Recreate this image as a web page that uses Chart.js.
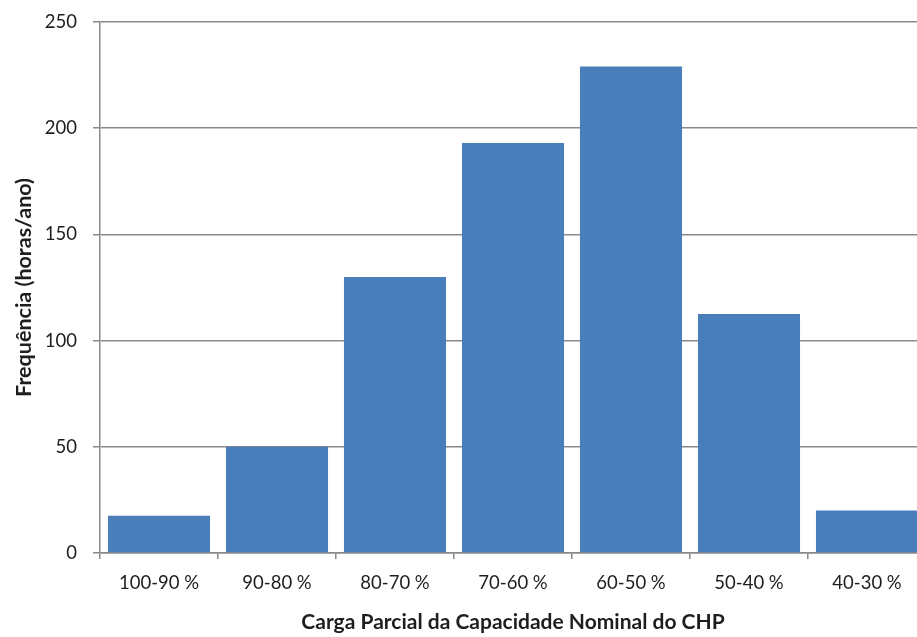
<!DOCTYPE html>
<html>
<head>
<meta charset="utf-8">
<script src="https://cdn.jsdelivr.net/npm/chart.js@4"></script>
<style>
  html, body { margin: 0; padding: 0; background: #fff; overflow: hidden; }
  #wrap { width: 930px; height: 637px; position: relative; }
</style>
</head>
<body>
<div id="wrap"><canvas id="chart"></canvas></div>
<script>
const categories = ['100-90 %', '90-80 %', '80-70 %', '70-60 %', '60-50 %', '50-40 %', '40-30 %'];
const hours = [17.5, 50, 130, 193, 229, 112.5, 20];
const yTicks = [0, 50, 100, 150, 200, 250];

const axisGray = '#8a8a8a';
const txt = '#1e1e1e';

const ctx = document.getElementById('chart').getContext('2d');
new Chart(ctx, {
    type: 'bar',
    data: {
        labels: categories,
        datasets: [{
            data: hours,
            backgroundColor: '#4a7ebb',
            borderWidth: 0,
            barPercentage: 0.865,
            categoryPercentage: 1
        }]
    },
    options: {
        responsive: true,
        maintainAspectRatio: false,
        animation: false,
        layout: { padding: { top: 22, right: 4, bottom: 0, left: 0 } },
        plugins: { legend: { display: false }, tooltip: { enabled: false } },
        scales: {
            x: {
                grid: { drawOnChartArea: false, drawTicks: true, tickLength: 6, color: axisGray, lineWidth: 1.5 },
                border: { color: axisGray, width: 1.5 },
                ticks: { color: txt, font: { family: 'Lato', size: 18.5 }, padding: 13, maxRotation: 0 },
                title: {
                    display: true,
                    text: 'Carga Parcial da Capacidade Nominal do CHP',
                    color: txt,
                    font: { family: 'Lato', size: 21, weight: 'bold' },
                    padding: { top: 0, bottom: 2 }
                },
                afterFit: s => { s.height = 84; s.paddingLeft = 0; s.paddingRight = 0; }
            },
            y: {
                min: 0,
                max: 250,
                afterBuildTicks: s => { s.ticks = yTicks.map(v => ({ value: v })); },
                grid: { color: axisGray, lineWidth: 1.5, drawTicks: true, tickLength: 7 },
                border: { color: axisGray, width: 1.5 },
                ticks: { color: txt, font: { family: 'Lato', size: 18.5 }, padding: 16 },
                title: {
                    display: true,
                    text: 'Frequência (horas/ano)',
                    color: txt,
                    font: { family: 'Lato', size: 21.5, weight: 'bold' },
                    padding: { top: 11, bottom: 0 }
                },
                afterFit: s => { s.width = 100; s.paddingTop = 0; s.paddingBottom = 0; }
            }
        }
    }
});
</script>
</body>
</html>
